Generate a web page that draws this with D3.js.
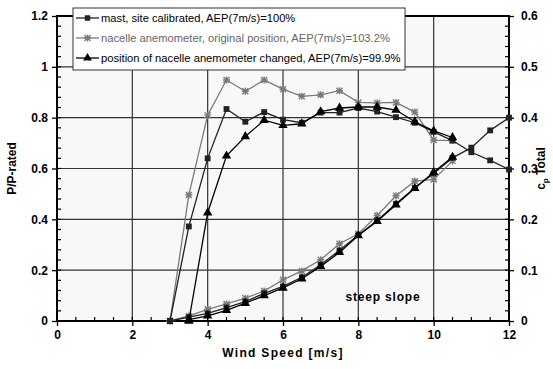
<!DOCTYPE html>
<html>
<head>
<meta charset="utf-8">
<script src="https://cdn.jsdelivr.net/npm/d3@7"></script>
<style>
  body { margin: 0; background: #fff; }
  svg { font-family: "Liberation Sans", Arial, sans-serif; }
</style>
</head>
<body>
<svg></svg>
<script>
// wind speed bins for each series
var windMast = [3, 3.5, 4, 4.5, 5, 5.5, 6, 6.5, 7, 7.5, 8, 8.5, 9, 9.5, 10, 10.5, 11, 11.5, 12];
var windNacelle = [3, 3.5, 4, 4.5, 5, 5.5, 6, 6.5, 7, 7.5, 8, 8.5, 9, 9.5, 10, 10.5];
var windChanged = [3.5, 4, 4.5, 5, 5.5, 6, 6.5, 7, 7.5, 8, 8.5, 9, 9.5, 10, 10.5];

// P/P-rated (left axis)
var powerMast = [0, 0.015, 0.03, 0.053, 0.076, 0.109, 0.136, 0.172, 0.221, 0.278, 0.338, 0.395, 0.461, 0.524, 0.58, 0.642, 0.682, 0.75, 0.8];
var powerNacelle = [0, 0.02, 0.046, 0.067, 0.09, 0.118, 0.162, 0.197, 0.241, 0.304, 0.343, 0.415, 0.493, 0.55, 0.557, 0.63];
var powerChanged = [0.005, 0.02, 0.042, 0.07, 0.1, 0.13, 0.166, 0.215, 0.27, 0.336, 0.392, 0.457, 0.522, 0.585, 0.645];

// cp Total (right axis)
var cpMast = [0, 0.186, 0.32, 0.417, 0.392, 0.411, 0.396, 0.39, 0.41, 0.41, 0.419, 0.412, 0.401, 0.39, 0.372, 0.355, 0.332, 0.316, 0.298];
var cpNacelle = [0, 0.248, 0.405, 0.474, 0.452, 0.474, 0.456, 0.442, 0.445, 0.453, 0.43, 0.429, 0.43, 0.411, 0.356, 0.355];
var cpChanged = [0, 0.213, 0.325, 0.363, 0.395, 0.385, 0.388, 0.412, 0.419, 0.421, 0.421, 0.415, 0.392, 0.374, 0.361];

var legendLabels = [
  "mast, site calibrated, AEP(7m/s)=100%",
  "nacelle anemometer, original position, AEP(7m/s)=103.2%",
  "position of nacelle anemometer changed, AEP(7m/s)=99.9%"
];
var xTicks = [0, 2, 4, 6, 8, 10, 12];
var leftTicks = [0, 0.2, 0.4, 0.6, 0.8, 1, 1.2];
var rightTicks = [0, 0.1, 0.2, 0.3, 0.4, 0.5, 0.6];

var screen = {width: 553, height: 369};
var plot = {left: 57, right: 509, top: 16, bottom: 321};

var svg = d3.select("svg")
  .attr("width", screen.width)
  .attr("height", screen.height);

var xScale = d3.scaleLinear().domain([0, 12]).range([plot.left, plot.right]);
var yLeft = d3.scaleLinear().domain([0, 1.2]).range([plot.bottom, plot.top]);
var yRight = d3.scaleLinear().domain([0, 0.6]).range([plot.bottom, plot.top]);

// plot background
svg.append("rect")
  .attr("x", plot.left).attr("y", plot.top)
  .attr("width", plot.right - plot.left)
  .attr("height", plot.bottom - plot.top)
  .attr("fill", "#f8f8f8");

// grid
svg.append("g").selectAll("line")
  .data(xTicks.slice(1, -1))
  .enter().append("line")
  .attr("x1", function(d){return xScale(d)})
  .attr("x2", function(d){return xScale(d)})
  .attr("y1", plot.top).attr("y2", plot.bottom)
  .attr("stroke", "#333").attr("stroke-width", 1.2);

svg.append("g").selectAll("line")
  .data(leftTicks.slice(1, -1))
  .enter().append("line")
  .attr("y1", function(d){return yLeft(d)})
  .attr("y2", function(d){return yLeft(d)})
  .attr("x1", plot.left).attr("x2", plot.right)
  .attr("stroke", "#333").attr("stroke-width", 1.2);

// axes (ticks + labels)
var leftAxis = svg.append("g")
  .attr("transform", "translate(" + plot.left + ",0)")
  .call(d3.axisLeft(yLeft).tickValues(leftTicks).tickSize(5).tickPadding(4)
    .tickFormat(d3.format("~g")));
var rightAxis = svg.append("g")
  .attr("transform", "translate(" + plot.right + ",0)")
  .call(d3.axisRight(yRight).tickValues(rightTicks).tickSize(5).tickPadding(7)
    .tickFormat(d3.format("~g")));
var bottomAxis = svg.append("g")
  .attr("transform", "translate(0," + plot.bottom + ")")
  .call(d3.axisBottom(xScale).tickValues(xTicks).tickSize(5).tickPadding(4)
    .tickFormat(d3.format("~g")));

[leftAxis, rightAxis, bottomAxis].forEach(function(ax){
  ax.select(".domain").remove();
  ax.selectAll("line").attr("stroke", "#000").attr("stroke-width", 1.3);
  ax.selectAll("text")
    .attr("font-family", "Liberation Sans, Arial, sans-serif")
    .attr("font-size", 12).attr("font-weight", "bold").attr("fill", "#000");
});

// minor ticks, pointing inwards
var minorLeft = d3.range(0, 1.2001, 0.04);
var minorRight = d3.range(0, 0.6001, 0.02);
var minorX = d3.range(0, 12.001, 0.5);

svg.append("g").selectAll("line").data(minorLeft).enter().append("line")
  .attr("x1", plot.left).attr("x2", plot.left + 4)
  .attr("y1", function(d){return yLeft(d)}).attr("y2", function(d){return yLeft(d)})
  .attr("stroke", "#000").attr("stroke-width", 1.2);
svg.append("g").selectAll("line").data(minorRight).enter().append("line")
  .attr("x1", plot.right - 4).attr("x2", plot.right)
  .attr("y1", function(d){return yRight(d)}).attr("y2", function(d){return yRight(d)})
  .attr("stroke", "#000").attr("stroke-width", 1.2);
svg.append("g").selectAll("line").data(minorX).enter().append("line")
  .attr("y1", plot.bottom - 4).attr("y2", plot.bottom)
  .attr("x1", function(d){return xScale(d)}).attr("x2", function(d){return xScale(d)})
  .attr("stroke", "#000").attr("stroke-width", 1.2);

// frame
svg.append("rect")
  .attr("x", plot.left).attr("y", plot.top)
  .attr("width", plot.right - plot.left)
  .attr("height", plot.bottom - plot.top)
  .attr("fill", "none").attr("stroke", "#000").attr("stroke-width", 2);

// series
var makePoints = function(xs, ys){
  return xs.map(function(x, i){ return {x: x, y: ys[i]} });
}

var asteriskPath = "M-3,-3L3,3M-3,3L3,-3M0,-3.5L0,3.5M-3.5,0L3.5,0";

var drawSeries = function(points, yScale, color, marker){
  var line = d3.line()
    .x(function(p){return xScale(p.x)})
    .y(function(p){return yScale(p.y)});
  svg.append("path")
    .datum(points)
    .attr("d", line)
    .attr("fill", "none")
    .attr("stroke", color)
    .attr("stroke-width", 1.3);
  var g = svg.append("g").selectAll("path")
    .data(points).enter().append("path")
    .attr("transform", function(p){return "translate(" + xScale(p.x) + "," + yScale(p.y) + ")"});
  if (marker == "asterisk") {
    g.attr("d", asteriskPath).attr("fill", "none").attr("stroke", color).attr("stroke-width", 1.4);
  } else {
    var type = marker == "square" ? d3.symbolSquare : d3.symbolTriangle;
    var size = marker == "square" ? 34 : 38;
    g.attr("d", d3.symbol().type(type).size(size)).attr("fill", color);
  }
}

var gray = "#7a7a7a";
drawSeries(makePoints(windNacelle, powerNacelle), yLeft, gray, "asterisk");
drawSeries(makePoints(windNacelle, cpNacelle), yRight, gray, "asterisk");
drawSeries(makePoints(windMast, powerMast), yLeft, "#222", "square");
drawSeries(makePoints(windMast, cpMast), yRight, "#222", "square");
drawSeries(makePoints(windChanged, powerChanged), yLeft, "#000", "triangle");
drawSeries(makePoints(windChanged, cpChanged), yRight, "#000", "triangle");

// axis titles
svg.append("text")
  .attr("x", (plot.left + plot.right) / 2).attr("y", 357)
  .attr("text-anchor", "middle")
  .attr("font-size", 12).attr("font-weight", "bold").attr("letter-spacing", 1.3)
  .text("Wind Speed [m/s]");

svg.append("text")
  .attr("transform", "translate(16," + (plot.top + plot.bottom) / 2 + ") rotate(-90)")
  .attr("text-anchor", "middle")
  .attr("font-size", 12).attr("font-weight", "bold")
  .text("P/P-rated");

var cpTitle = svg.append("text")
  .attr("transform", "translate(545," + (plot.top + plot.bottom) / 2 + ") rotate(-90)")
  .attr("text-anchor", "middle")
  .attr("font-size", 12).attr("font-weight", "bold");
cpTitle.append("tspan").text("c");
cpTitle.append("tspan").attr("font-size", 8).attr("dy", 3).text("p");
cpTitle.append("tspan").attr("dy", -3).text(" Total");

svg.append("text")
  .attr("x", 383).attr("y", 301)
  .attr("text-anchor", "middle")
  .attr("font-size", 12).attr("font-weight", "bold").attr("letter-spacing", 0.8)
  .text("steep slope");

// legend
var legend = svg.append("g");
legend.append("rect")
  .attr("x", 73).attr("y", 8).attr("width", 332).attr("height", 62)
  .attr("fill", "#fff").attr("stroke", "#333").attr("stroke-width", 1);

var legendItems = [
  {label: legendLabels[0], color: "#222", marker: "square", textColor: "#000"},
  {label: legendLabels[1], color: gray, marker: "asterisk", textColor: "#666"},
  {label: legendLabels[2], color: "#000", marker: "triangle", textColor: "#000"}
];

legendItems.forEach(function(item, i){
  var y = 18 + i * 20;
  legend.append("line")
    .attr("x1", 76).attr("x2", 99).attr("y1", y).attr("y2", y)
    .attr("stroke", item.color).attr("stroke-width", 1.3);
  var m = legend.append("path").attr("transform", "translate(87.5," + y + ")");
  if (item.marker == "asterisk") {
    m.attr("d", asteriskPath).attr("fill", "none").attr("stroke", item.color).attr("stroke-width", 1.4);
  } else {
    m.attr("d", d3.symbol().type(item.marker == "square" ? d3.symbolSquare : d3.symbolTriangle)
      .size(item.marker == "square" ? 30 : 34)).attr("fill", item.color);
  }
  legend.append("text")
    .attr("x", 101).attr("y", y + 4)
    .attr("font-size", 11.2).attr("fill", item.textColor)
    .text(item.label);
});
</script>
</body>
</html>
